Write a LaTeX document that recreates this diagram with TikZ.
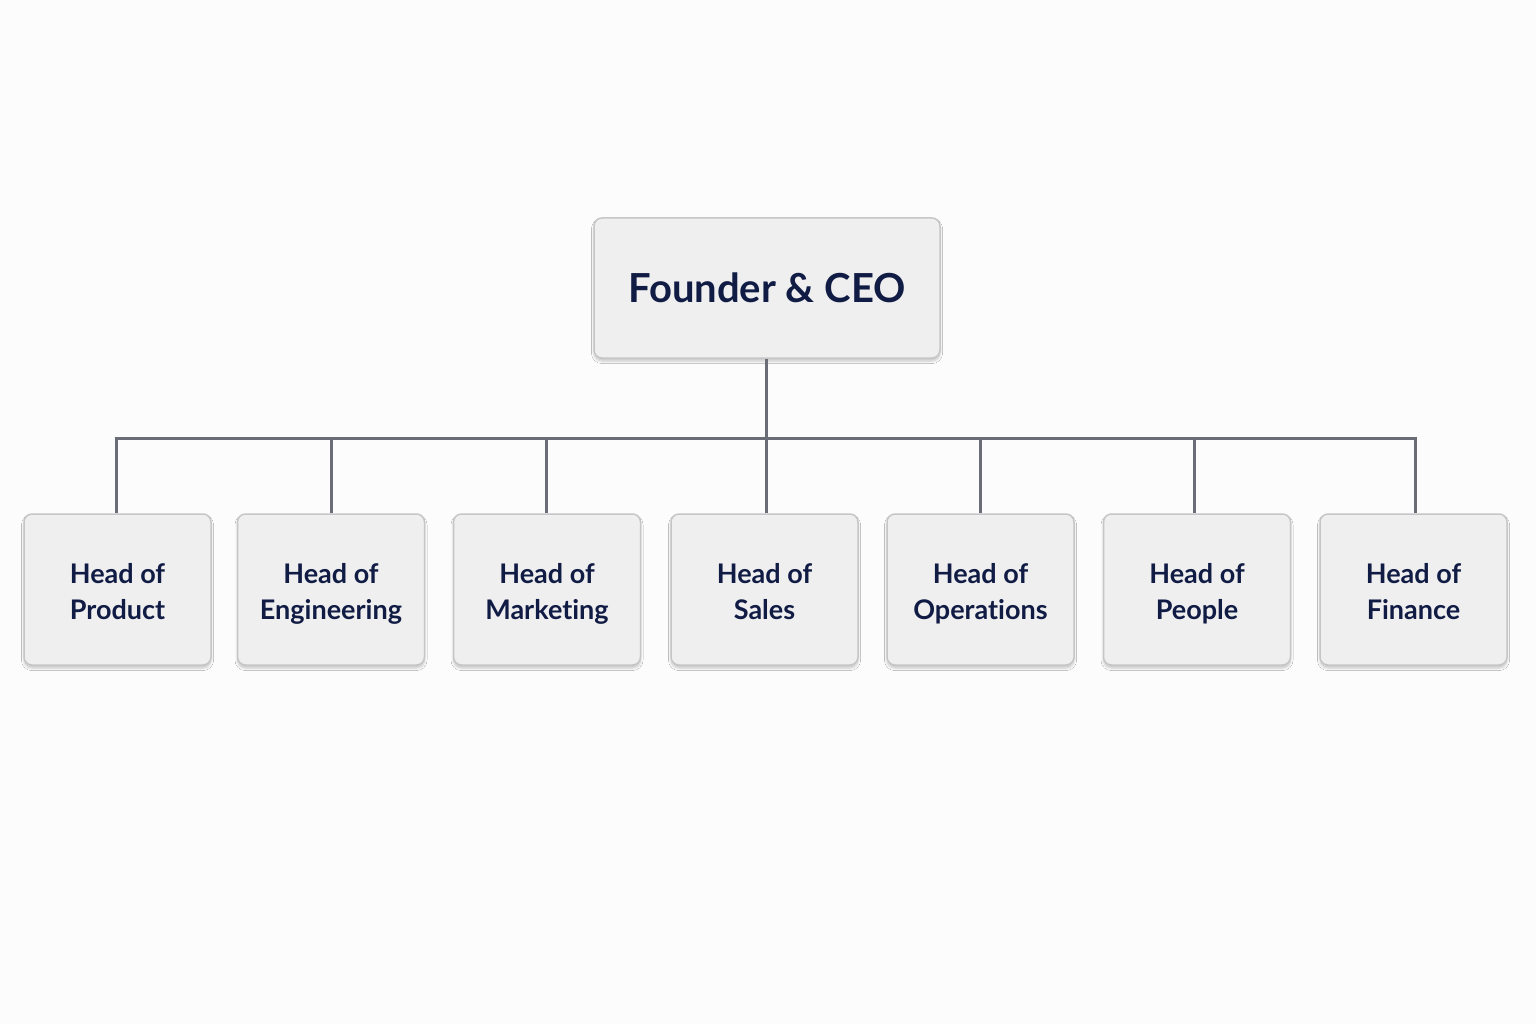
\documentclass[tikz,border=0pt]{standalone}
\usepackage{fontspec}
\setmainfont{Lato}[Ligatures={NoCommon}]
\usetikzlibrary{shadows.blur}
\definecolor{boxfill}{HTML}{EFEFEF}
\definecolor{boxline}{HTML}{C6C6C8}
\definecolor{linkc}{HTML}{6A6D75}
\definecolor{txtc}{HTML}{111C45}
\definecolor{bgc}{HTML}{FCFCFC}
\newcommand\linestrut{\rule[-6.5pt]{0pt}{36pt}}
\tikzset{
  orgbox/.style={draw=boxline, line width=1.5pt, fill=boxfill, rounded corners=8pt,
    blur shadow={shadow xshift=0pt, shadow yshift=-3pt, shadow blur radius=2.5pt, shadow blur steps=6, shadow opacity=22},
    text=txtc, align=center, inner sep=0pt},
  ceobox/.style={orgbox, minimum width=346pt, minimum height=140pt,
    font=\fontsize{40}{48}\selectfont\bfseries},
  headbox/.style={orgbox, minimum width=187pt, minimum height=151pt,
    font=\fontsize{27}{36}\selectfont\bfseries},
  link/.style={draw=linkc, line width=3pt}
}
\begin{document}
\begin{tikzpicture}[x=1pt,y=-1pt]
\fill[bgc] (0,0) rectangle (1536,1024);
\useasboundingbox (0,0) rectangle (1536,1024);
\coordinate (barL) at (116,438);
\coordinate (barR) at (1415,438);
\coordinate (barC) at (766,438);
\node[ceobox] (ceo) at (767,288) {Founder \& CEO};
\foreach \n/\x/\a/\b in {p/117.5/Head of/Product, e/331/Head of/Engineering, m/547/Head of/Marketing, s/764.5/Head of/Sales, o/980.5/Head of/Operations, pe/1197/Head of/People, f/1413.5/Head of/Finance}{
  \node[headbox] (\n) at (\x,589.5) {\linestrut\a\\\linestrut\b};
}
\draw[link] (ceo.south -| barC) -- (barC);
\draw[link, line cap=butt] ([xshift=-1.5pt]barL) -- ([xshift=1.5pt]barR);
\foreach \n/\x in {p/116, e/331, m/546, s/766, o/980, pe/1194, f/1415}{
  \draw[link] (\x,438) -- (\n.north -| {(\x,0)});
}
\end{tikzpicture}
\end{document}
